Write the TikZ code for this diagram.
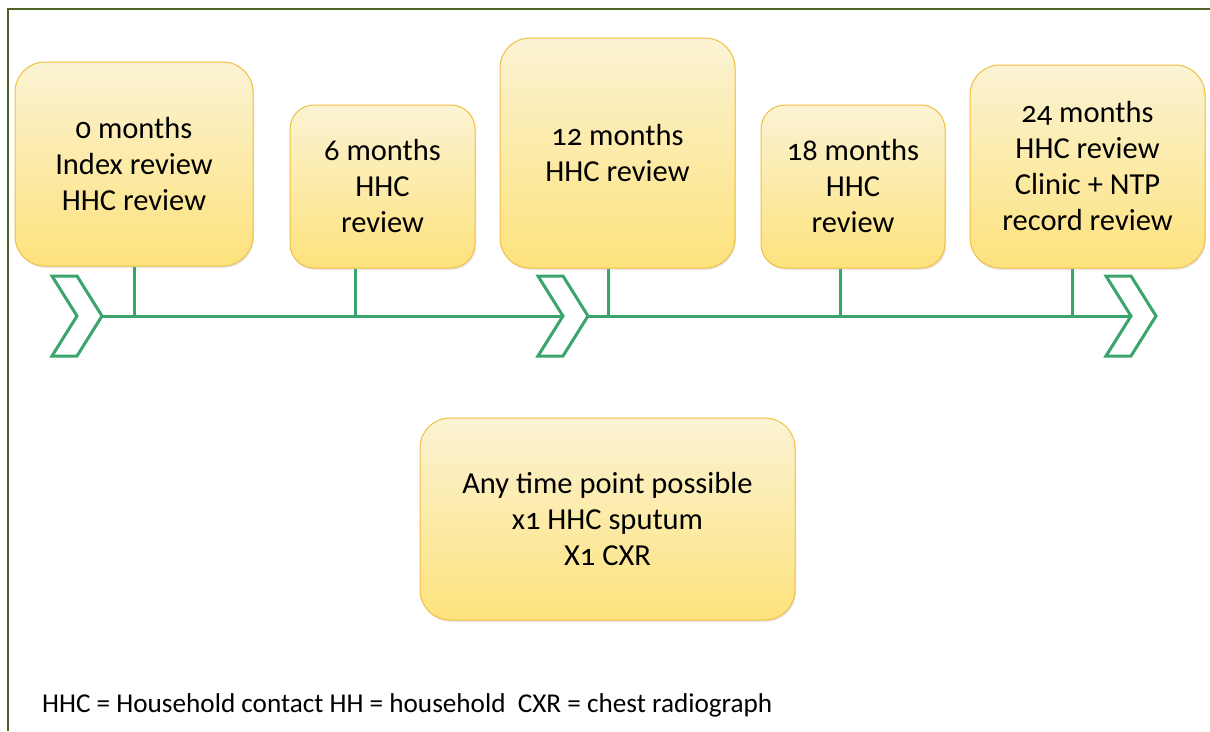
\documentclass[tikz,border=0pt]{standalone}
\usepackage{fontspec}
\setmainfont{Carlito}
\newfontfamily\boxfont[Numbers=OldStyle]{Carlito}
\usetikzlibrary{shadows}
\definecolor{framegreen}{HTML}{4F6228}
\definecolor{tlgreen}{HTML}{3AA56B}
\definecolor{boxtop}{HTML}{FBF3D4}
\definecolor{boxbot}{HTML}{FDE27C}
\definecolor{boxedge}{HTML}{F2C040}
\begin{document}
\begin{tikzpicture}[x=1pt,y=-1pt,
  stage/.style={draw=boxedge, line width=1pt, top color=boxtop, bottom color=boxbot,
    rounded corners=30pt, align=center, inner sep=0pt,
    font=\boxfont\fontsize{30.5}{36}\selectfont,
    drop shadow={opacity=0.18, shadow xshift=1pt, shadow yshift=-2pt}},
  smallstage/.style={stage, rounded corners=24pt},
  axis/.style={draw=tlgreen, line width=3pt},
  chevron/.style={draw=tlgreen, fill=white, line width=3pt, line join=miter},
  tick/.style={draw=tlgreen, line width=3pt}]
\useasboundingbox (0,0) rectangle (1210,731);
\fill[white] (0,0) rectangle (1210,731);

% outer frame
\draw[framegreen, line width=2pt] (8,731) -- (8,9) -- (1210,9);

% review boxes
\node[stage, minimum width=238pt, minimum height=204pt] (m0) at (134,164)
  {0 months\\Index review\\HHC review};
\node[smallstage, minimum width=185pt, minimum height=163pt] (m6) at (382.5,186.5)
  {6 months\\HHC\\review};
\node[stage, minimum width=235pt, minimum height=230pt] (m12) at (617.5,153)
  {12 months\\HHC review};
\node[smallstage, minimum width=184pt, minimum height=163pt] (m18) at (853,186.5)
  {18 months\\HHC\\review};
\node[stage, minimum width=235pt, minimum height=203pt] (m24) at (1087.5,166.5)
  {24 months\\HHC review\\Clinic + NTP\\record review};
\node[stage, minimum width=375pt, minimum height=202pt] (any) at (607.5,519)
  {Any time point possible\\x1 HHC sputum\\X1 CXR};

% timeline chevrons
\foreach \n/\x in {a/52, b/538, c/1106}{
  \coordinate (\n-notch) at (\x+25,316);
  \coordinate (\n-tip) at (\x+50,316);
  \path[chevron] (\x,276) -- (\x+25,276) -- (\n-tip) -- (\x+25,356) -- (\x,356) -- (\n-notch) -- cycle;
}

% timeline axis
\draw[axis] (a-tip) -- (b-notch);
\draw[axis] (b-tip) -- (c-notch);

% ticks from boxes to the axis
\coordinate (t0) at (m0.south);
\coordinate (t6) at ([xshift=-27.5pt]m6.south);
\coordinate (t12) at ([xshift=-9.5pt]m12.south);
\coordinate (t18) at ([xshift=-13pt]m18.south);
\coordinate (t24) at ([xshift=-15.5pt]m24.south);
\foreach \t in {t0,t6,t12,t18,t24}{
  \draw[tick] (\t) -- (\t |- a-tip);
}

% legend
\node[anchor=west, inner sep=0pt, font=\fontsize{27.2}{32}\selectfont] (legend) at (42,705)
  {HHC = Household contact HH = household\ \ CXR = chest radiograph};
\end{tikzpicture}
\end{document}
